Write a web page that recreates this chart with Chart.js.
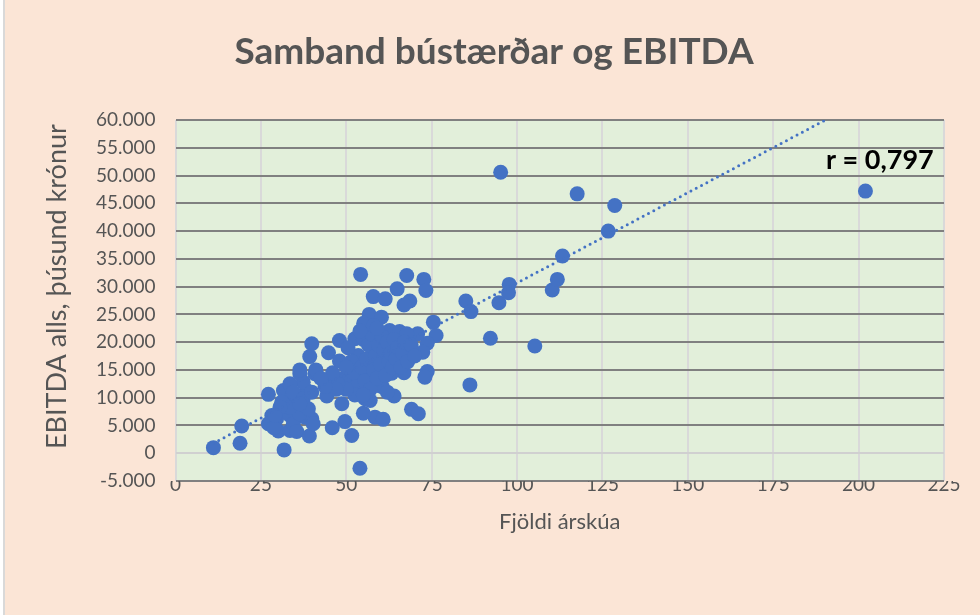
<!DOCTYPE html>
<html>
<head>
<meta charset="utf-8">
<script src="https://cdn.jsdelivr.net/npm/chart.js@4.4.1/dist/chart.umd.min.js"></script>
<style>
  html, body { margin: 0; padding: 0; background: #ffffff; }
  #wrap { position: relative; width: 980px; height: 615px; }
  #edge { position: absolute; left: 3px; top: 0; width: 2px; height: 615px; background: #d9d9d9; }
  canvas { position: absolute; left: 5px; top: 0; background: #fbe5d6; }
</style>
</head>
<body>
<div id="wrap">
  <div id="edge"></div>
  <canvas id="chart" width="975" height="615"></canvas>
</div>
<script>
// ── data ─────────────────────────────────────────────────────────────────────

const TITLE = 'Samband bústærðar og EBITDA';
const X_TITLE = 'Fjöldi árskúa';
const Y_TITLE = 'EBITDA alls, þúsund krónur';
const R_LABEL = 'r = 0,797';

// fjöldi árskúa
const cows = [
  11.1, 18.9, 19.4, 27.2, 31.8, 31.6, 34.0, 28.2, 27.2, 30.1,
  29.6, 31.6, 33.5, 33.5, 31.1, 34.5, 28.8, 35.5, 39.2, 37.9,
  39.9, 36.4, 33.5, 35.5, 38.4, 37.4, 33.5, 36.4, 40.8, 44.3,
  48.7, 45.9, 49.6, 51.6, 54.0, 39.9, 39.3, 44.8, 48.0, 48.0,
  52.5, 53.5, 36.4, 41.1, 34.5, 37.4, 38.9, 36.4, 39.9, 45.2,
  49.1, 51.6, 53.0, 57.9, 59.4, 56.0, 59.0, 40.3, 30.6, 29.1,
  54.2, 57.9, 61.4, 56.7, 55.1, 60.3, 67.7, 72.7, 73.3, 64.9,
  68.6, 66.9, 75.5, 76.3, 73.7, 70.9, 62.7, 65.6, 67.7, 72.4,
  68.5, 73.7, 73.0, 66.9, 63.3, 64.0, 69.1, 71.1, 58.4, 60.8,
  55.0, 60.5,
  50.5, 51.5, 52.0, 53.0, 54.5, 55.0, 55.5, 56.0, 56.5, 57.0,
  57.5, 58.0, 58.5, 59.0, 59.5, 60.0, 60.5, 61.0, 61.5, 62.0,
  62.5, 63.0, 63.5, 64.0, 64.5, 65.0, 66.0, 66.5, 67.0, 68.0,
  69.0, 70.0, 57.0, 55.5, 52.5, 50.0, 47.5, 46.0, 47.0, 43.8,
  42.5, 50.0, 55.0, 62.0, 58.0, 54.0, 59.0,
  85.0, 86.5, 86.2, 92.2, 95.2, 94.7, 97.7, 97.5, 105.2, 110.3,
  111.8, 113.3, 117.6, 126.7, 128.6, 202.0
];

// EBITDA, þúsund krónur
const ebitda = [
  1000, 1800, 4900, 10600, 600, 11300, 10100, 6800, 5300, 4000,
  6200, 8000, 6800, 4100, 9200, 5300, 4600, 3900, 3100, 6500,
  6200, 7100, 8300, 10100, 11300, 12800, 12500, 14300, 14300, 10300,
  8900, 4600, 5700, 3200, -2700, 19700, 17400, 18100, 20300, 16600,
  20600, 17600, 15000, 15000, 11000, 9800, 8000, 8900, 11000, 13400,
  13400, 13100, 14000, 12800, 12200, 14600, 15200, 5300, 8300, 6800,
  32200, 28200, 27800, 25000, 23400, 24500, 32000, 31300, 29300, 29600,
  27400, 26700, 23600, 21200, 19800, 21500, 22100, 21900, 21500, 18200,
  17300, 14700, 13700, 14500, 14400, 10300, 7900, 7100, 6500, 6100,
  7200, 12000,
  19000, 16500, 14500, 12000, 15500, 20500, 13000, 17000, 19500, 11500,
  21500, 15000, 17500, 13500, 19500, 16000, 21000, 18500, 14000, 20000,
  16500, 18000, 15500, 20500, 17000, 19000, 15500, 18000, 20000, 16500,
  19500, 17500, 9500, 9800, 10500, 11500, 12500, 14500, 11500, 12000,
  13500, 15500, 10500, 11000, 23000, 22000, 22500,
  27400, 25500, 12300, 20700, 50600, 27100, 30400, 28900, 19300, 29400,
  31300, 35500, 46700, 40000, 44600, 47200
];

// dotted trend line (ends where it leaves the plot)
const trendX = [11.1, 190.3];
const trendY = [1800, 60000];

// axes
const X_MIN = 0, X_MAX = 225, X_STEP = 25;
const Y_MIN = -5000, Y_MAX = 60000, Y_STEP = 5000;

// ── helpers ──────────────────────────────────────────────────────────────────

const BLUE = '#4472c4';
const GREY_TEXT = '#555555';
const FONT = 'Lato, "Open Sans", sans-serif';

function thousands(v) {
  const s = Math.abs(v).toFixed(0).replace(/\B(?=(\d{3})+(?!\d))/g, '.');
  return (v < 0 ? '-' : '') + s;
}

const points = cows.map((x, i) => ({ x, y: ebitda[i] }));
const trend = trendX.map((x, i) => ({ x, y: trendY[i] }));

const decor = {
  id: 'decor',
  beforeDraw(chart) {
    const { ctx, chartArea: a } = chart;
    ctx.save();
    ctx.fillStyle = '#e2efda';
    ctx.fillRect(a.left, a.top, a.width, a.height);
    ctx.restore();
  },
  afterDraw(chart) {
    const { ctx, scales } = chart;
    ctx.save();
    // y axis title, centred on the 0..60.000 span like the original
    ctx.translate(52, scales.y.getPixelForValue(30000));
    ctx.rotate(-Math.PI / 2);
    ctx.fillStyle = GREY_TEXT;
    ctx.font = '27px ' + FONT;
    ctx.textAlign = 'center';
    ctx.textBaseline = 'middle';
    ctx.fillText(Y_TITLE, 0, 0);
    ctx.restore();

    ctx.save();
    ctx.fillStyle = '#000000';
    ctx.font = 'bold 27px ' + FONT;
    ctx.textAlign = 'right';
    ctx.textBaseline = 'middle';
    ctx.fillText(R_LABEL, scales.x.getPixelForValue(222), scales.y.getPixelForValue(52800));
    ctx.restore();
  },
};

// ── chart ────────────────────────────────────────────────────────────────────

new Chart(document.getElementById('chart'), {
  type: 'scatter',
  data: {
    datasets: [
      {
        type: 'line',
        data: trend,
        borderColor: BLUE,
        borderWidth: 3,
        borderDash: [0, 6],
        borderCapStyle: 'round',
        pointRadius: 0,
        fill: false,
        order: 0,
      },
      {
        data: points,
        backgroundColor: BLUE,
        borderColor: BLUE,
        borderWidth: 0,
        pointRadius: 7.5,
        order: 1,
      },
    ],
  },
  options: {
    responsive: false,
    animation: false,
    layout: { padding: { left: 39, right: 36, top: 10, bottom: 80 } },
    plugins: {
      legend: { display: false },
      tooltip: { enabled: false },
      title: {
        display: true,
        text: TITLE,
        color: GREY_TEXT,
        font: { family: FONT, size: 37, weight: 'bold', lineHeight: 1.2 },
        padding: { top: 20, bottom: 45.6 },
      },
    },
    scales: {
      x: {
        type: 'linear',
        min: X_MIN,
        max: X_MAX,
        afterFit: (s) => { s.height = 54; },
        ticks: {
          stepSize: X_STEP,
          color: GREY_TEXT,
          font: { family: FONT, size: 19 },
          padding: -8,
          maxRotation: 0,
        },
        grid: { color: '#d9d9d9', lineWidth: 2, drawTicks: false },
        border: { display: false },
        title: {
          display: true,
          text: X_TITLE,
          color: GREY_TEXT,
          font: { family: FONT, size: 22, lineHeight: 1.2 },
          padding: 0,
        },
      },
      y: {
        min: Y_MIN,
        max: Y_MAX,
        afterFit: (s) => { s.width = 131.5; },
        ticks: {
          stepSize: Y_STEP,
          color: GREY_TEXT,
          font: { family: FONT, size: 19 },
          padding: 20,
          callback: (v) => thousands(v),
        },
        grid: {
          lineWidth: 2,
          drawTicks: false,
          color: (c) => (c.tick && c.tick.value === 0 ? '#d0d0d0' : '#808080'),
        },
        border: { display: false },
      },
    },
  },
  plugins: [decor],
});
</script>
</body>
</html>
